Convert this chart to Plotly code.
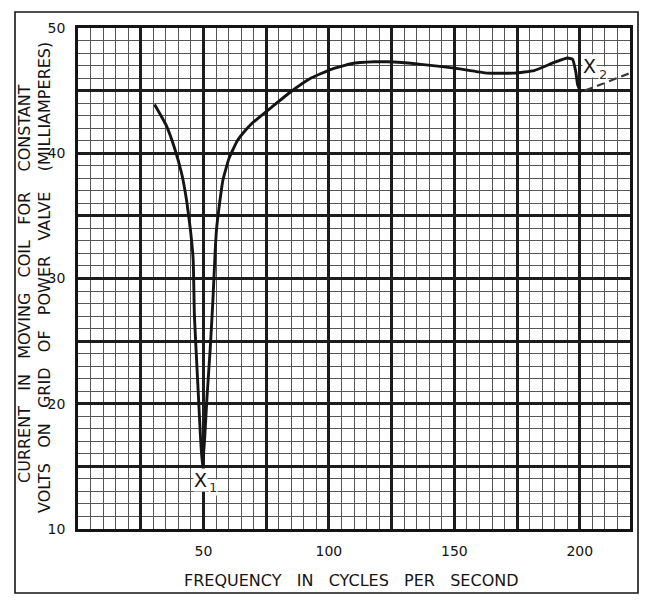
import plotly.graph_objects as go

# Measured response of the moving coil: current (mA) against frequency (c/s)
freq = [30.5, 35.0, 38.5, 41.4, 43.3, 44.8, 45.9, 46.4, 47.7, 48.7, 49.6,
        50.5, 51.4, 52.7, 53.8, 54.7, 55.2, 56.3, 57.8, 60.2, 63.5, 67.0,
        69.4, 77.3, 85.1, 92.9, 100.9, 108.9, 118.2, 123.4, 136.7, 150.0,
        163.2, 173.9, 181.8, 189.8, 195.1, 197.1, 198.4, 199.1, 200.4]
current = [43.9, 42.3, 40.4, 38.3, 36.2, 33.9, 31.5, 27.0, 21.8, 17.8, 14.9,
           17.3, 20.5, 24.4, 28.4, 32.3, 33.9, 35.8, 37.9, 39.6, 41.0, 41.9,
           42.4, 43.7, 44.95, 46.0, 46.7, 47.15, 47.3, 47.3, 47.1, 46.8,
           46.4, 46.4, 46.6, 47.25, 47.6, 47.5, 46.5, 45.5, 44.85]

# Continuation beyond the second resonance, drawn dashed
dash_freq = [202.0, 210.0, 220.0]
dash_current = [45.0, 45.6, 46.4]

# Resonance markers X1 and X2 (letter, then its subscript)
marker_subs = ["1", "2"]
marker_freq = [46.0, 200.8]
marker_current = [13.9, 47.0]
sub_freq = [52.0, 207.2]
sub_current = [13.3, 46.25]

# Labelled ticks
x_tick_vals = [50, 100, 150, 200]
y_tick_vals = [10, 20, 30, 40, 50]
# Heavy ruling of the graph paper
x_heavy = [0, 25, 50, 75, 100, 125, 150, 175, 200]
y_heavy = [10, 15, 20, 25, 30, 35, 40, 45, 50]
x_range = [0, 220]
y_range = [10, 50]

W, H = 648, 607
ML, MR, MT, MB = 78, 18, 28, 78
PW, PH = W - ML - MR, H - MT - MB


def px_x(p):
    return (p - ML) / PW


def px_y(p):
    return (H - MB - p) / PH


FONT = "DejaVu Sans, Verdana, sans-serif"
INK = "#141414"
HEAVY = "#1c1c1c"
LIGHT = "#555555"
NB = "\u00a0"

fig = go.Figure()
fig.add_trace(go.Scatter(
    x=freq, y=current, mode="lines", xaxis="x2", yaxis="y2",
    line=dict(color=INK, width=2.9, shape="spline", smoothing=0.4),
    showlegend=False, hoverinfo="skip"))
fig.add_trace(go.Scatter(
    x=dash_freq, y=dash_current, mode="lines", xaxis="x2", yaxis="y2",
    line=dict(color="#3a3a3a", width=2.2, dash="8px,5px"),
    showlegend=False, hoverinfo="skip"))
# keeps the labelled axes attached to the plot
fig.add_trace(go.Scatter(x=x_range, y=y_range, mode="none",
                         showlegend=False, hoverinfo="skip"))

for fx, fy in zip(marker_freq, marker_current):
    fig.add_annotation(x=fx, y=fy, xref="x", yref="y", text="X",
                       showarrow=False, xanchor="left", yanchor="middle",
                       bgcolor="white", borderpad=0,
                       font=dict(family=FONT, size=19, color=INK))
for sub, fx, fy in zip(marker_subs, sub_freq, sub_current):
    fig.add_annotation(x=fx, y=fy, xref="x", yref="y", text=sub,
                       showarrow=False, xanchor="left", yanchor="middle",
                       bgcolor="white", borderpad=0,
                       font=dict(family=FONT, size=13, color="#333333"))

label_axis = dict(
    showline=True, linecolor=INK, linewidth=2.6, mirror=True,
    zeroline=False, ticks="", showgrid=True,
    gridcolor=HEAVY, gridwidth=2.5,
    tickmode="array", ticklabelstandoff=7,
    tickfont=dict(family=FONT, size=14, color=INK),
)
heavy_axis = dict(
    showline=False, zeroline=False, ticks="", showticklabels=False,
    showgrid=True, gridcolor=HEAVY, gridwidth=2.5, tickmode="array",
)

fig.update_layout(
    xaxis=dict(range=x_range, tickvals=x_tick_vals,
               minor=dict(tickmode="linear", tick0=0, dtick=5, showgrid=True,
                          gridcolor=LIGHT, gridwidth=1.4),
               **label_axis),
    yaxis=dict(range=y_range, tickvals=y_tick_vals,
               minor=dict(tickmode="linear", tick0=10, dtick=1, showgrid=True,
                          gridcolor=LIGHT, gridwidth=1.4),
               **label_axis),
    xaxis2=dict(range=x_range, overlaying="x", anchor="y2",
                tickvals=x_heavy, **heavy_axis),
    yaxis2=dict(range=y_range, overlaying="y", anchor="x2",
                tickvals=y_heavy, **heavy_axis),
)

title_font = dict(family=FONT, size=16, color=INK)
gap = NB * 2 + " "
fig.add_annotation(
    x=px_x(24), y=px_y(284), xref="paper", yref="paper",
    text=gap.join(["CURRENT", "IN", "MOVING", "COIL", "FOR", NB + "CONSTANT"]),
    textangle=-90, showarrow=False, xanchor="center", yanchor="middle",
    font=title_font)
fig.add_annotation(
    x=px_x(44), y=px_y(278), xref="paper", yref="paper",
    text=gap.join(["VOLTS", "ON", "GRID", "OF", "POWER", "VALVE", NB + "(MILLIAMPERES)"]),
    textangle=-90, showarrow=False, xanchor="center", yanchor="middle",
    font=title_font)
fig.add_annotation(
    x=px_x(351), y=px_y(580), xref="paper", yref="paper",
    text=gap.join(["FREQUENCY", "IN", "CYCLES", "PER", "SECOND"]),
    showarrow=False, xanchor="center", yanchor="middle",
    font=title_font)

# Outer border round the whole sheet
fig.add_shape(type="rect", xref="paper", yref="paper",
              x0=px_x(15), x1=px_x(638), y0=px_y(593), y1=px_y(12),
              line=dict(color=INK, width=1.6), layer="below")

fig.update_layout(
    width=W, height=H,
    margin=dict(l=ML, r=MR, t=MT, b=MB),
    paper_bgcolor="white", plot_bgcolor="white",
    font=dict(family=FONT, color=INK),
    showlegend=False,
)

fig.write_html("out.html")
